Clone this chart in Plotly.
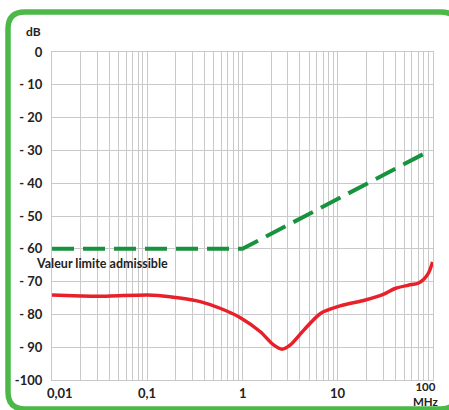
import math
import plotly.graph_objects as go

# ---------------------------------------------------------------------------
# Data
# ---------------------------------------------------------------------------

freq_measured = [0.01, 0.02, 0.03, 0.05, 0.1, 0.13, 0.22, 0.36, 0.59, 0.95,
                 1.54, 2.12, 2.6, 3.18, 4.4, 6.6, 10.6, 19.5, 30, 40,
                 55, 70, 80, 90, 99]
db_measured = [-74.1, -74.4, -74.5, -74.3, -74.1, -74.2, -75.0, -76.1, -78.2, -81.0,
               -85.3, -89.3, -90.6, -89.3, -84.8, -79.7, -77.4, -75.6, -73.9, -72.1,
               -71.1, -70.5, -69.3, -67.3, -64.0]

freq_limit = [0.01, 1, 87]
db_limit = [-60, -60, -30.5]

x_tick_vals = [0.01, 0.1, 1, 10, 100]
x_tick_text = ["0,01", "0,1", "1", "10", "100<br>MHz"]
y_tick_vals = [0, -10, -20, -30, -40, -50, -60, -70, -80, -90, -100]
y_tick_text = ["0", "- 10", "- 20", "- 30", "- 40", "- 50", "- 60",
               "- 70", "- 80", "- 90", "-100"]

# ---------------------------------------------------------------------------
# Style
# ---------------------------------------------------------------------------

W, H = 449, 410
L, R, T, B = 52, 16, 52, 30
FONT = "Lato"
TXT = "#222222"
GRID = "#c9c9c9"
FRAME = "#4cb848"

# minor log gridlines (1..9 in each decade)
grid_vals = [m * 10 ** e for e in range(-2, 2) for m in range(1, 10)] + [100]


def px(x, y):
    """Pixel position on the page -> paper coordinates."""
    return (x - L) / (W - L - R), (H - B - y) / (H - T - B)


def rounded_frame(x0, y0, x1, y1, r):
    def p(x, y):
        a, b = px(x, y)
        return f"{a:.4f},{b:.4f}"
    return (
        f"M {p(x0 + r, y0)} L {p(x1 - r, y0)} Q {p(x1, y0)} {p(x1, y0 + r)} "
        f"L {p(x1, y1 - r)} Q {p(x1, y1)} {p(x1 - r, y1)} "
        f"L {p(x0 + r, y1)} Q {p(x0, y1)} {p(x0, y1 - r)} "
        f"L {p(x0, y0 + r)} Q {p(x0, y0)} {p(x0 + r, y0)} Z"
    )


fig = go.Figure()

fig.add_trace(go.Scatter(
    x=freq_limit, y=db_limit, mode="lines",
    line=dict(color="#17923f", width=4, dash="22px,9px"),
    hoverinfo="skip", showlegend=False,
))

fig.add_trace(go.Scatter(
    x=freq_measured, y=db_measured, mode="lines",
    line=dict(color="#e8202a", width=3.5, shape="spline", smoothing=0.8),
    hoverinfo="skip", showlegend=False,
))

# x tick labels as annotations (edge labels sit slightly inward)
shifts = {0.01: 8, 100: -8}
annotations = [
    dict(x=math.log10(v), xref="x", y=px(0, 383)[1], yref="paper",
         text="<br>".join(f"<b>{s}</b>" for s in t.split("<br>")),
         showarrow=False, xanchor="center", yanchor="top",
         xshift=shifts.get(v, 0), yshift=5 if v == 100 else 0,
         font=dict(family=FONT, size=13 if v != 100 else 11.5, color=TXT))
    for v, t in zip(x_tick_vals, x_tick_text)
]

annotations += [
    dict(x=px(33, 0)[0], xref="paper", y=px(0, 32)[1], yref="paper",
         text="<b>dB</b>", showarrow=False, xanchor="center", yanchor="middle",
         font=dict(family=FONT, size=12, color=TXT)),
    dict(x=px(34, 0)[0], xref="paper", y=px(0, 263)[1], yref="paper",
         text="<b>Valeur limite admissible</b>", showarrow=False,
         xanchor="left", yanchor="middle",
         font=dict(family=FONT, size=12.5, color=TXT)),
]

fig.update_layout(
    width=W, height=H,
    margin=dict(l=L, r=R, t=T, b=B, pad=0),
    paper_bgcolor="white", plot_bgcolor="white",
    font=dict(family=FONT, color=TXT),
    xaxis=dict(
        type="log", range=[-2, 2],
        tickvals=grid_vals, ticktext=[""] * len(grid_vals),
        showgrid=True, gridcolor=GRID, gridwidth=1.2,
        showline=True, mirror=True, linecolor=GRID, linewidth=1.2,
        zeroline=False, ticks="",
    ),
    yaxis=dict(
        range=[-100, 0],
        tickvals=y_tick_vals,
        ticktext=[f"<b>{t}</b>" for t in y_tick_text],
        tickfont=dict(family=FONT, size=13, color=TXT),
        showgrid=True, gridcolor=GRID, gridwidth=1.2,
        showline=True, mirror=True, linecolor=GRID, linewidth=1.2,
        zeroline=False, ticks="", ticklabelstandoff=6,
    ),
    annotations=annotations,
    shapes=[dict(
        type="path", xref="paper", yref="paper",
        path=rounded_frame(8, 12, 458, 409, 17),
        line=dict(color=FRAME, width=5.5),
    )],
)

# the page body has a default margin; remove it so the figure sits at (0, 0)
fig.write_html(
    "out.html",
    config={"displayModeBar": False},
    post_script="document.body.style.margin='0';",
)
